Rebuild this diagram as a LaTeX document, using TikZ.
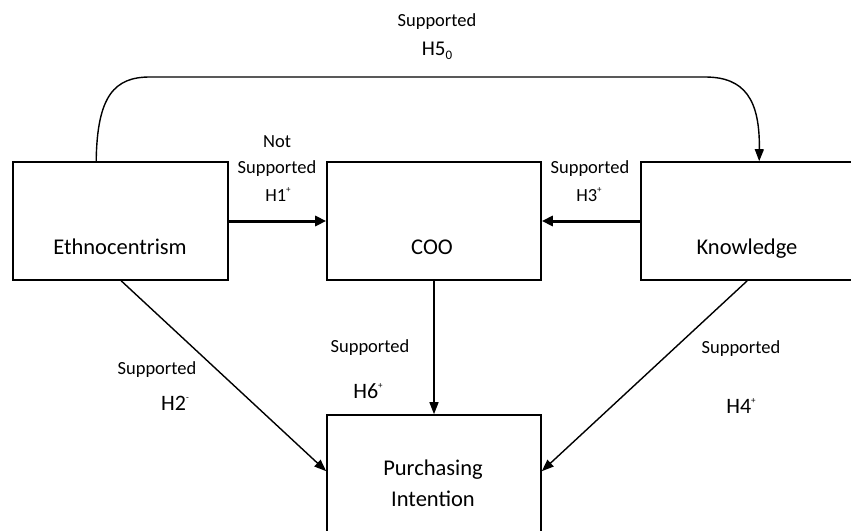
\documentclass[tikz,border=0pt]{standalone}
\usepackage{fontspec}
\setmainfont{Carlito}
\usetikzlibrary{arrows.meta,calc}
\newcommand{\mysup}[1]{\raisebox{0.45em}{\fontsize{9}{10}\selectfont #1}}
\newcommand{\mysub}[1]{\raisebox{-0.2em}{\fontsize{13}{14}\selectfont #1}}
\begin{document}
\begin{tikzpicture}[x=1pt,y=-1pt,
  box/.style={draw,line width=1.6pt,inner sep=0pt},
  conn/.style={line width=1.4pt,-{Triangle[length=12pt,width=9pt]}},
  thickconn/.style={line width=3pt,-{Triangle[length=11pt,width=10pt]}},
  lab/.style={font=\fontsize{18.5}{20}\selectfont,anchor=base,inner sep=0pt},
  hlab/.style={font=\fontsize{22}{24}\selectfont,anchor=base,inner sep=0pt},
  btxt/.style={font=\fontsize{22.5}{24}\selectfont,anchor=base,inner sep=0pt}]
\useasboundingbox (0,0) rectangle (851,530);
\clip (0,0) rectangle (851,530);
% boxes
\node[box,minimum width=215pt,minimum height=118pt] (E) at (120.5,221) {};
\node[box,minimum width=214pt,minimum height=118pt] (C) at (434,221) {};
\node[box,minimum width=215pt,minimum height=118pt] (K) at (748.5,221) {};
\node[box,minimum width=214pt,minimum height=130pt] (P) at (434,480) {};
% box texts
\node[btxt] (Et) at (120,254) {Ethnocentrism};
\node[btxt] (Ct) at (432,254) {COO};
\node[btxt] (Kt) at (747,254) {Knowledge};
\node[btxt] (Pt1) at (433,475) {Purchasing};
\node[btxt] (Pt2) at (433,506) {Intention};
% connectors
\draw[line width=1.4pt,-{Triangle[length=12pt,width=9pt]}]
  ([xshift=84pt]E.north west) .. controls (97,95) and (115,77) .. (150,77)
  -- (705,77) .. controls (745,77) and (760,100) .. ([xshift=119pt]K.north west);
\draw[thickconn] (E.east) -- (C.west);
\draw[thickconn] (K.west) -- (C.east);
\draw[conn] (C.south) -- (P.north);
\draw[conn] ([xshift=109pt]E.south west) -- ([yshift=-57pt]P.north west);
\draw[conn] ([xshift=107pt]K.south west) -- ([yshift=-57pt]P.north east);
% labels
\node[lab] (l5a) at (437,27) {Supported};
\node[hlab,font=\fontsize{21}{22}\selectfont] (l5b) at (437,55) {H5\mysub{0}};
\node[lab] (l1a) at (277,147) {Not};
\node[lab] (l1b) at (277,173) {Supported};
\node[lab] (l1c) at (278,201) {H1\mysup{+}};
\node[lab] (l3a) at (590,173) {Supported};
\node[lab] (l3b) at (589,201) {H3\mysup{+}};
\node[lab] (l6a) at (370,352) {Supported};
\node[hlab] (l6b) at (368,398) {H6\mysup{+}};
\node[lab] (l2a) at (157,374) {Supported};
\node[hlab] (l2b) at (175,410) {H2\mysup{-}};
\node[lab] (l4a) at (741,353) {Supported};
\node[hlab] (l4b) at (741,413) {H4\mysup{+}};
\end{tikzpicture}
\end{document}
